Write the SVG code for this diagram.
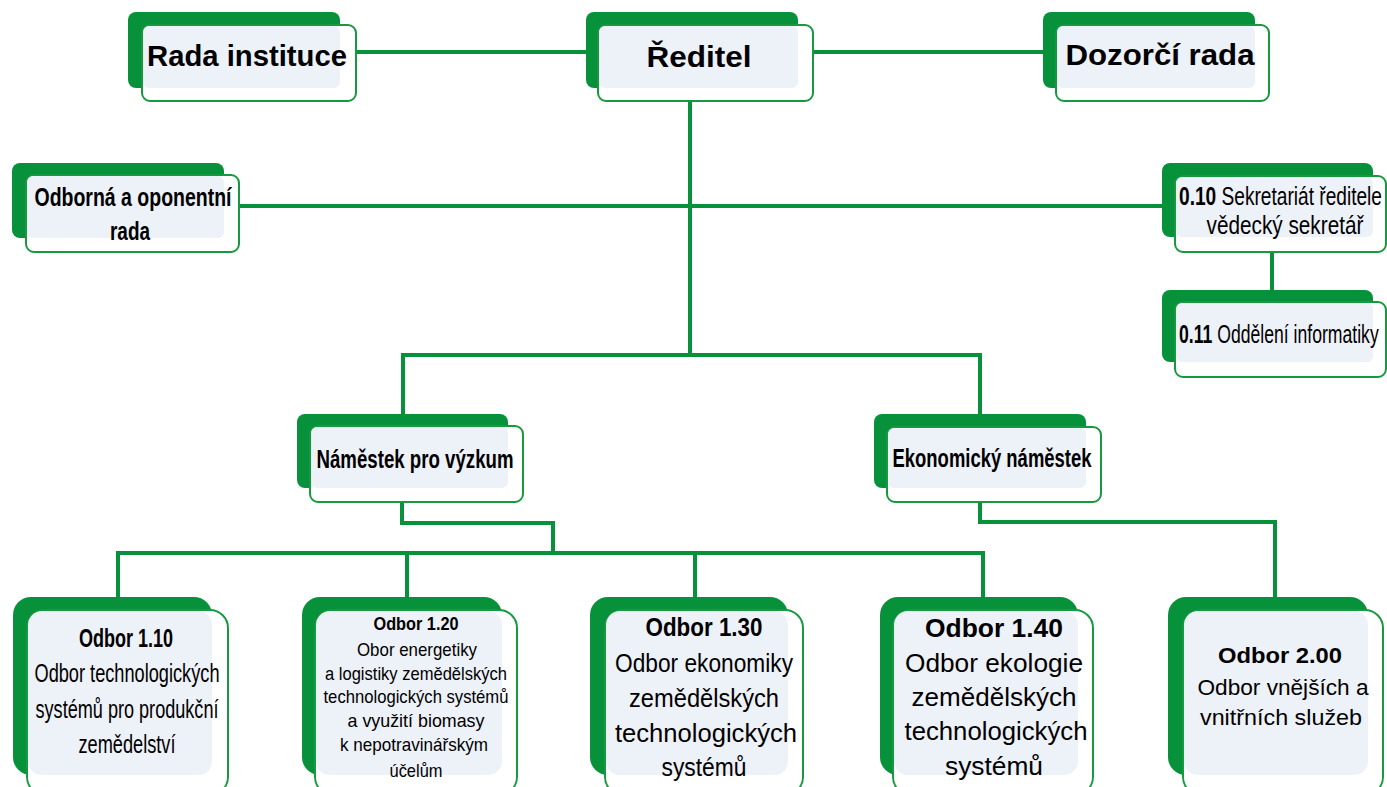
<svg xmlns="http://www.w3.org/2000/svg" width="1387" height="787" viewBox="0 0 1387 787">
<style>
.back{fill:#07913b;}
.front{fill:#ffffff;stroke:#17993f;stroke-width:2;}
.tint{fill:#edf1f8;}
.con{fill:none;stroke:#07913b;stroke-width:4;stroke-linejoin:miter;stroke-linecap:butt;}
text{font-family:"Liberation Sans",Arial,sans-serif;fill:#000;}
.c{text-anchor:middle;}
.s{text-anchor:start;}
.b{font-weight:bold;}
</style>
<rect width="1387" height="787" fill="#ffffff"/>
<g id="connectors">
<path class="con" d="M356,52 H586"/>
<path class="con" d="M813,52 H1043"/>
<path class="con" d="M690,101 V355"/>
<path class="con" d="M239,206 H1175"/>
<path class="con" d="M1272,252 V290"/>
<path class="con" d="M403,414 V355 H980 V414"/>
<path class="con" d="M402,502 V523 H553 V553"/>
<path class="con" d="M118,597 V553 H983 V597"/>
<path class="con" d="M407,553 V597"/>
<path class="con" d="M695,553 V597"/>
<path class="con" d="M980,502 V522 H1275 V597"/>
</g>
<g id="rada-instituce">
<rect class="back" x="128" y="12" width="212" height="76" rx="8"/>
<rect class="front" x="142" y="25" width="214" height="76" rx="8"/>
<rect class="tint" x="143" y="26" width="197" height="62" rx="6"/>
<text class="c b" x="247" y="66" font-size="29" textLength="200" lengthAdjust="spacingAndGlyphs">Rada instituce</text>
</g>
<g id="reditel">
<rect class="back" x="586" y="12" width="212" height="76" rx="8"/>
<rect class="front" x="598" y="25" width="215" height="76" rx="8"/>
<rect class="tint" x="599" y="26" width="199" height="62" rx="6"/>
<text class="c b" x="699" y="67" font-size="29" textLength="105" lengthAdjust="spacingAndGlyphs">Ředitel</text>
</g>
<g id="dozorci-rada">
<rect class="back" x="1043" y="12" width="212" height="76" rx="8"/>
<rect class="front" x="1056" y="25" width="213" height="76" rx="8"/>
<rect class="tint" x="1057" y="26" width="198" height="62" rx="6"/>
<text class="c b" x="1160" y="65" font-size="29" textLength="189" lengthAdjust="spacingAndGlyphs">Dozorčí rada</text>
</g>
<g id="odborna-rada">
<rect class="back" x="12" y="163" width="212" height="75" rx="8"/>
<rect class="front" x="26" y="175" width="213" height="77" rx="8"/>
<rect class="tint" x="27" y="176" width="197" height="62" rx="6"/>
<text class="c b" x="133" y="206" font-size="25" textLength="197" lengthAdjust="spacingAndGlyphs">Odborná a oponentní</text>
<text class="c b" x="130" y="240" font-size="25" textLength="40" lengthAdjust="spacingAndGlyphs">rada</text>
</g>
<g id="sekretariat">
<rect class="back" x="1162" y="163" width="211" height="74" rx="8"/>
<rect class="front" x="1175" y="176" width="211" height="76" rx="8"/>
<rect class="tint" x="1176" y="177" width="197" height="60" rx="6"/>
<text class="s" transform="translate(1179,205) scale(0.765,1)" x="0" y="0" font-size="25"><tspan class="b">0.10</tspan> Sekretariát ředitele</text>
<text class="c" transform="translate(1285,234) scale(0.83,1)" x="0" y="0" font-size="25">vědecký sekretář</text>
</g>
<g id="informatika">
<rect class="back" x="1162" y="290" width="211" height="72" rx="8"/>
<rect class="front" x="1175" y="302" width="211" height="75" rx="8"/>
<rect class="tint" x="1176" y="303" width="197" height="59" rx="6"/>
<text class="s" transform="translate(1179,343) scale(0.705,1)" x="0" y="0" font-size="25"><tspan class="b">0.11</tspan> Oddělení informatiky</text>
</g>
<g id="namestek-vyzkum">
<rect class="back" x="297" y="414" width="211" height="74" rx="8"/>
<rect class="front" x="310" y="426" width="213" height="76" rx="8"/>
<rect class="tint" x="311" y="427" width="197" height="61" rx="6"/>
<text class="c b" x="415" y="468" font-size="25" textLength="197" lengthAdjust="spacingAndGlyphs">Náměstek pro výzkum</text>
</g>
<g id="ekonomicky-namestek">
<rect class="back" x="874" y="414" width="212" height="74" rx="8"/>
<rect class="front" x="887" y="427" width="214" height="75" rx="8"/>
<rect class="tint" x="888" y="428" width="198" height="60" rx="6"/>
<text class="c b" x="992" y="467" font-size="25" textLength="199" lengthAdjust="spacingAndGlyphs">Ekonomický náměstek</text>
</g>
<g id="odbor-110">
<rect class="back" x="13" y="597" width="199" height="178" rx="18"/>
<rect class="front" x="27" y="610" width="201" height="185" rx="18"/>
<rect class="tint" x="28" y="611" width="184" height="164" rx="14"/>
<text class="c b" x="126" y="647" font-size="25" textLength="94" lengthAdjust="spacingAndGlyphs">Odbor 1.10</text>
<text class="c" x="127" y="682" font-size="25" textLength="185" lengthAdjust="spacingAndGlyphs">Odbor technologických</text>
<text class="c" x="127" y="718" font-size="25" textLength="183" lengthAdjust="spacingAndGlyphs">systémů pro produkční</text>
<text class="c" x="127" y="753" font-size="25" textLength="97" lengthAdjust="spacingAndGlyphs">zemědelství</text>
</g>
<g id="odbor-120">
<rect class="back" x="302" y="597" width="200" height="178" rx="18"/>
<rect class="front" x="315" y="610" width="202" height="185" rx="18"/>
<rect class="tint" x="316" y="611" width="186" height="164" rx="14"/>
<text class="c b" x="416" y="630" font-size="19" textLength="85" lengthAdjust="spacingAndGlyphs">Odbor 1.20</text>
<text class="c" x="417" y="656" font-size="19" textLength="120" lengthAdjust="spacingAndGlyphs">Obor energetiky</text>
<text class="c" x="416" y="680" font-size="19" textLength="182" lengthAdjust="spacingAndGlyphs">a logistiky zemědělských</text>
<text class="c" x="416" y="703" font-size="19" textLength="185" lengthAdjust="spacingAndGlyphs">technologických systémů</text>
<text class="c" x="416" y="727" font-size="19" textLength="137" lengthAdjust="spacingAndGlyphs">a využití biomasy</text>
<text class="c" x="414" y="751" font-size="19" textLength="148" lengthAdjust="spacingAndGlyphs">k nepotravinářským</text>
<text class="c" x="416" y="777" font-size="19" textLength="53" lengthAdjust="spacingAndGlyphs">účelům</text>
</g>
<g id="odbor-130">
<rect class="back" x="590" y="597" width="198" height="178" rx="18"/>
<rect class="front" x="605" y="610" width="198" height="185" rx="18"/>
<rect class="tint" x="606" y="611" width="182" height="164" rx="14"/>
<text class="c b" x="704" y="636" font-size="25" textLength="117" lengthAdjust="spacingAndGlyphs">Odbor 1.30</text>
<text class="c" x="704" y="672" font-size="25" textLength="178" lengthAdjust="spacingAndGlyphs">Odbor ekonomiky</text>
<text class="c" x="704" y="707" font-size="25" textLength="150" lengthAdjust="spacingAndGlyphs">zemědělských</text>
<text class="c" x="706" y="742" font-size="25" textLength="182" lengthAdjust="spacingAndGlyphs">technologických</text>
<text class="c" x="704" y="776" font-size="25" textLength="85" lengthAdjust="spacingAndGlyphs">systémů</text>
</g>
<g id="odbor-140">
<rect class="back" x="880" y="597" width="198" height="178" rx="18"/>
<rect class="front" x="893" y="610" width="200" height="185" rx="18"/>
<rect class="tint" x="894" y="611" width="184" height="164" rx="14"/>
<text class="c b" x="994" y="637" font-size="26" textLength="138" lengthAdjust="spacingAndGlyphs">Odbor 1.40</text>
<text class="c" x="994" y="672" font-size="25" textLength="178" lengthAdjust="spacingAndGlyphs">Odbor ekologie</text>
<text class="c" x="994" y="706" font-size="25" textLength="165" lengthAdjust="spacingAndGlyphs">zemědělských</text>
<text class="c" x="996" y="740" font-size="25" textLength="183" lengthAdjust="spacingAndGlyphs">technologických</text>
<text class="c" x="994" y="775" font-size="25" textLength="98" lengthAdjust="spacingAndGlyphs">systémů</text>
</g>
<g id="odbor-200">
<rect class="back" x="1168" y="597" width="200" height="178" rx="18"/>
<rect class="front" x="1183" y="610" width="200" height="185" rx="18"/>
<rect class="tint" x="1184" y="611" width="184" height="164" rx="14"/>
<text class="c b" x="1280" y="663" font-size="22" textLength="124" lengthAdjust="spacingAndGlyphs">Odbor 2.00</text>
<text class="c" x="1283" y="695" font-size="22" textLength="171" lengthAdjust="spacingAndGlyphs">Odbor vnějších a</text>
<text class="c" x="1281" y="725" font-size="22" textLength="162" lengthAdjust="spacingAndGlyphs">vnitřních služeb</text>
</g>
</svg>
